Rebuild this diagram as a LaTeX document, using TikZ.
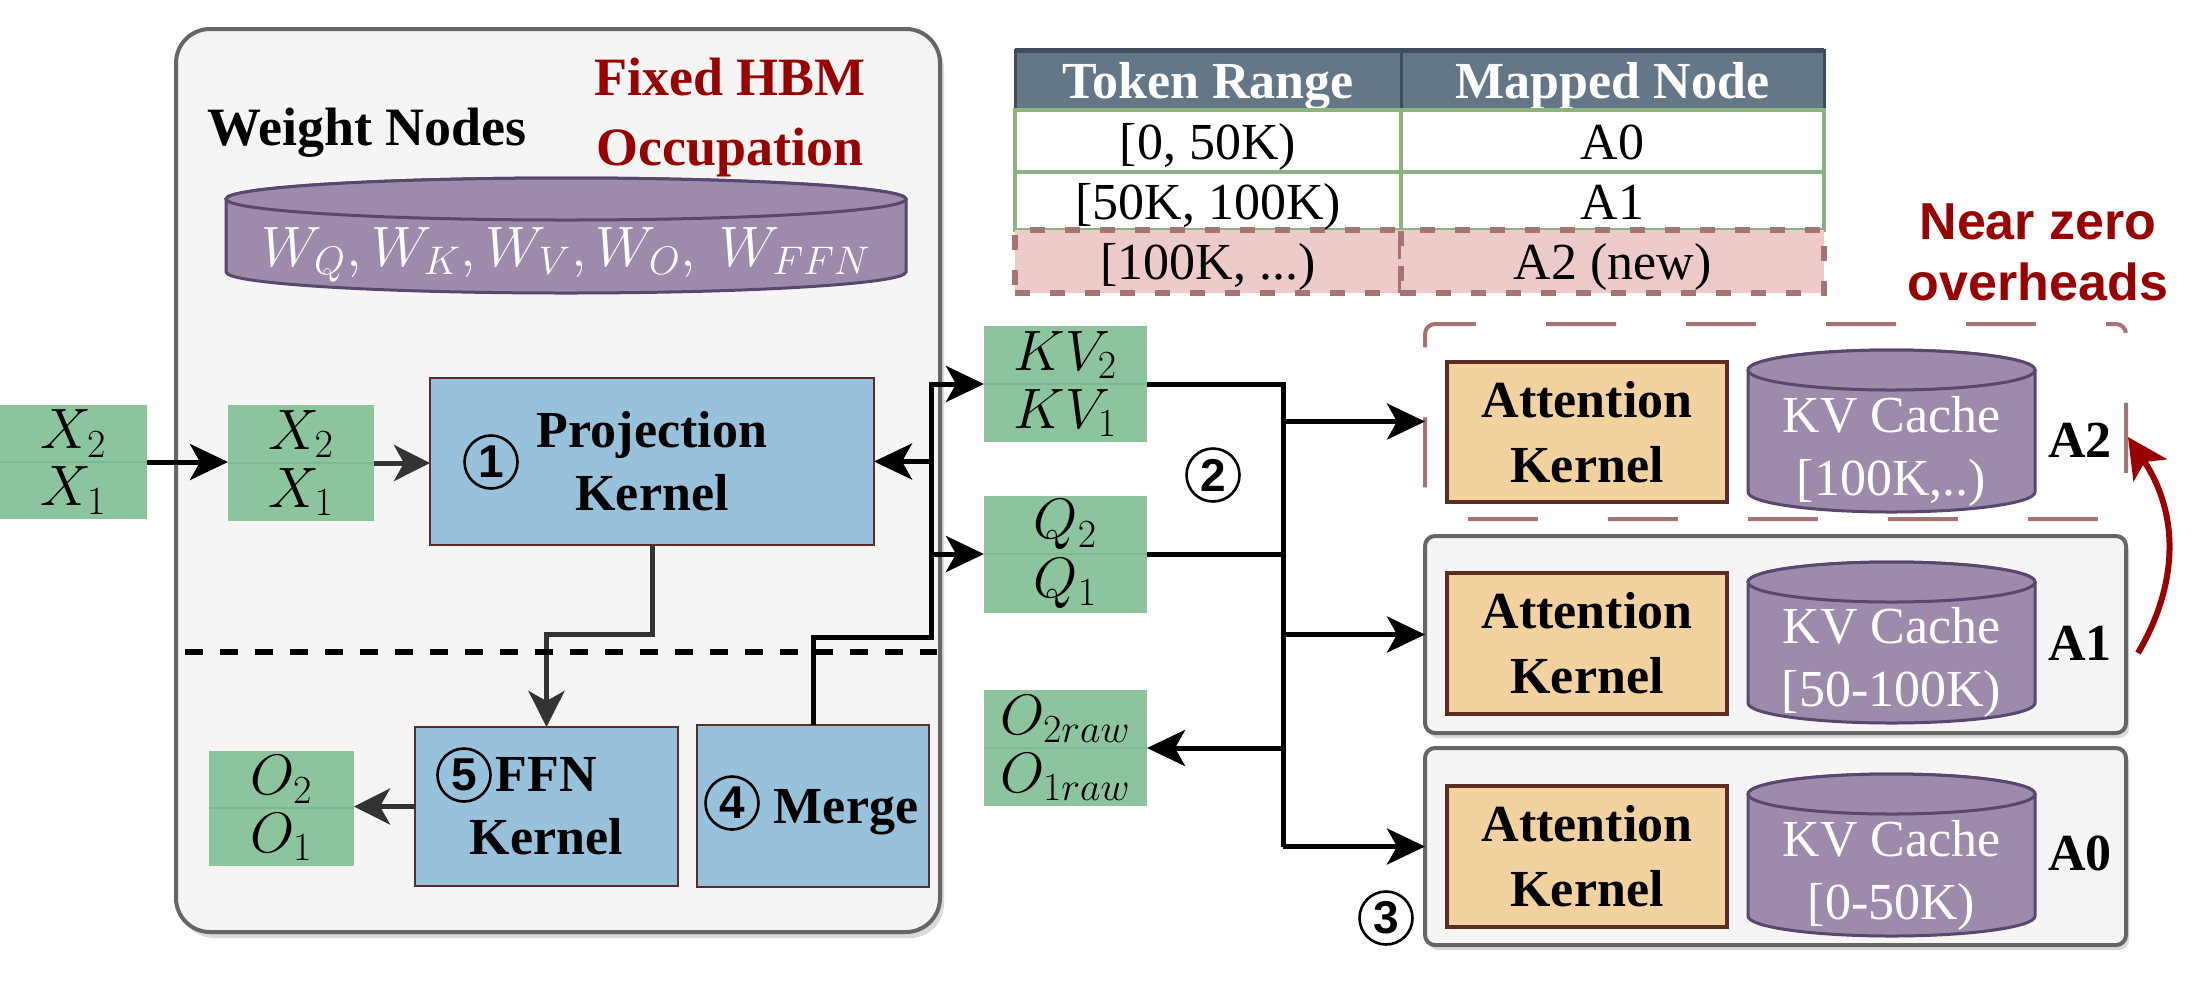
\RequirePackage{fix-cm}
\documentclass[tikz,border=0pt]{standalone}
\usepackage[no-math]{fontspec}
\setmainfont{Liberation Serif}
\newfontfamily\sansf{Liberation Sans}
\usetikzlibrary{arrows.meta,shadows}
\definecolor{cgreen}{HTML}{8CC49E}
\definecolor{cgreenbd}{HTML}{7DB98F}
\definecolor{cblue}{HTML}{98C2DC}
\definecolor{cbluebd}{HTML}{5B2C2C}
\definecolor{corange}{HTML}{F2D3A0}
\definecolor{corangebd}{HTML}{5C2B22}
\definecolor{cpurple}{HTML}{9E8AAA}
\definecolor{cpurplebd}{HTML}{58476F}
\definecolor{cpanel}{HTML}{F5F5F5}
\definecolor{cpanelbd}{HTML}{666666}
\definecolor{cred}{HTML}{990000}
\definecolor{cth}{HTML}{647788}
\definecolor{cthbd}{HTML}{3E4C5D}
\definecolor{ctdbd}{HTML}{8DB47F}
\definecolor{crow3}{HTML}{EDCBCB}
\definecolor{cdash}{HTML}{A57373}
\definecolor{cdark}{HTML}{333333}
\newcommand{\fs}{\fontsize{26}{31.5}\selectfont}
\newcommand{\kvcyl}[5]{%
  \pgfmathsetmacro{\cyxa}{#1}%
  \pgfmathsetmacro{\cyxb}{#2}%
  \pgfmathsetmacro{\cyxm}{(#1+#2)/2}%
  \pgfmathsetmacro{\cyyt}{#3+#5}%
  \pgfmathsetmacro{\cyyb}{#4-#5}%
  \pgfmathsetmacro{\cyrx}{(#2-#1)/4}%
  \pgfmathsetmacro{\cyry}{#5/2}%
  \filldraw[cyl] (\cyxa,\cyyt) -- (\cyxa,\cyyb) arc[start angle=180, end angle=360, x radius=\cyrx pt, y radius=\cyry pt] -- (\cyxb,\cyyt) arc[start angle=0, end angle=180, x radius=\cyrx pt, y radius=\cyry pt] -- cycle;
  \draw[cyl] (\cyxm,\cyyt) ellipse[x radius=\cyrx pt, y radius=\cyry pt];
}
\begin{document}
\begin{tikzpicture}[x=0.5pt,y=-0.5pt,
  every node/.style={inner sep=0pt, outer sep=0pt, font=\fs},
  bigbox/.style={draw=cpanelbd, fill=cpanel, line width=2pt, rounded corners=17pt, drop shadow={shadow xshift=2pt, shadow yshift=-3pt, opacity=0.15, fill=black}},
  cont/.style={draw=cpanelbd, fill=cpanel, line width=2pt, rounded corners=5pt, drop shadow={shadow xshift=1.5pt, shadow yshift=-2.5pt, opacity=0.15, fill=black}},
  dashbox/.style={draw=cdash, line width=2pt, rounded corners=5pt, dash pattern=on 35pt off 35pt, dash phase=30pt},
  mth/.style={font=\fontsize{28.5}{30}\selectfont},
  gcell/.style={fill=cgreen, mth},
  gsplit/.style={draw=cgreenbd, line width=1pt},
  kernel/.style={fill=cblue, draw=cbluebd, line width=1.3pt},
  attn/.style={fill=corange, draw=corangebd, line width=1.6pt, align=center, font=\fontsize{26}{32.5}\selectfont\bfseries},
  cyl/.style={fill=cpurple, draw=cpurplebd, line width=1.5pt},
  cyltxt/.style={text=white, align=center, font=\fontsize{26}{31.5}\selectfont},
  thcell/.style={fill=cth, draw=cthbd, line width=1.5pt, text=white, font=\fs\bfseries, text height=18pt, text depth=0pt},
  tdcell/.style={fill=white, draw=ctdbd, line width=1.75pt, text height=18pt, text depth=0pt},
  newcell/.style={fill=crow3, draw=cdash, line width=3pt, dash pattern=on 7.5pt off 10pt, text height=18pt, text depth=0pt},
  cnum/.style={circle, draw=black, line width=1.3pt, minimum size=26.5pt, font=\sansf\bfseries\fontsize{23}{23}\selectfont},
  blkline/.style={line width=2.5pt, draw=black},
  blkarr/.style={blkline, -{Stealth[length=19pt,width=18pt,inset=5pt]}},
  grayarr/.style={line width=2.5pt, draw=cdark, -{Stealth[length=18pt,width=18pt,inset=5pt]}},
  redarr/.style={line width=3pt, draw=cred, -{Stealth[length=20pt,width=20pt,inset=5pt]}},
  divider/.style={line width=3pt, dash pattern=on 9pt off 8.5pt},
  lbl/.style={font=\fs\bfseries}
]
\useasboundingbox (0,0) rectangle (2205,987);

% ---------- main panel ----------
\node[bigbox, minimum width=382pt, minimum height=451.5pt] (main) at (558,480.5) {};
\node[text=cred, align=center, font=\fontsize{27}{35}\selectfont\bfseries] (fixed) at (730,118) {Fixed HBM\\Occupation};
\node[anchor=base, font=\fontsize{27}{31.5}\selectfont\bfseries] (weight) at (367,145) {Weight Nodes};
\kvcyl{226}{906}{178}{293}{21}
\node[text=white, mth] (wtxt) at (566,255) {$W_Q, W_K, W_V, W_O,\ W_{FFN}$};

% inputs
\node[gcell, minimum width=73.5pt, minimum height=28.5pt] (xin2) at (73.5,433.5) {$X_2$};
\node[gcell, minimum width=73.5pt, minimum height=28.5pt] (xin1) at (73.5,490.5) {$X_1$};
\draw[gsplit] (xin2.south west) -- (xin2.south east);
\node[gcell, minimum width=73pt, minimum height=29pt] (xp2) at (301,434) {$X_2$};
\node[gcell, minimum width=73pt, minimum height=29pt] (xp1) at (301,492) {$X_1$};
\draw[gsplit] (xp2.south west) -- (xp2.south east);

% projection kernel
\node[kernel, minimum width=222pt, minimum height=83.5pt, align=center, font=\fs\bfseries] (proj) at (652,461.5) {Projection\\Kernel};
\node[cnum] (c1) at (491,462) {1};

% FFN, merge
\node[kernel, minimum width=131.5pt, minimum height=79.5pt, align=center, font=\fs\bfseries] (ffn) at (546.5,806.5) {FFN\\Kernel};
\node[cnum] (c5) at (464,775) {5};
\node[kernel, minimum width=116pt, minimum height=81pt] (merge) at (813,806) {};
\node[lbl] (mergetxt) at (846,812) {Merge};
\node[cnum] (c4) at (732,803) {4};

% outputs
\node[gcell, minimum width=72.5pt, minimum height=28.5pt] (o2) at (281.5,779.5) {$O_2$};
\node[gcell, minimum width=72.5pt, minimum height=29pt] (o1) at (281.5,837) {$O_1$};
\draw[gsplit] (o2.south west) -- (o2.south east);

% KV / Q / O raw
\node[gcell, minimum width=81.5pt, minimum height=29pt] (kv2) at (1065.5,355) {$KV_2$};
\node[gcell, minimum width=81.5pt, minimum height=29pt] (kv1) at (1065.5,413) {$KV_1$};
\draw[gsplit] (kv2.south west) -- (kv2.south east);
\node[gcell, minimum width=81.5pt, minimum height=29pt] (q2) at (1065.5,525) {$Q_2$};
\node[gcell, minimum width=81.5pt, minimum height=29.5pt] (q1) at (1065.5,583.5) {$Q_1$};
\draw[gsplit] (q2.south west) -- (q2.south east);
\node[gcell, minimum width=81.5pt, minimum height=29pt] (or2) at (1065.5,719) {$O_{2raw}$};
\node[gcell, minimum width=81.5pt, minimum height=29pt] (or1) at (1065.5,777) {$O_{1raw}$};
\draw[gsplit] (or2.south west) -- (or2.south east);

% ---------- table ----------
\node[thcell, minimum width=193pt, minimum height=30pt] (th1) at (1208,80) {Token Range};
\node[thcell, minimum width=211.5pt, minimum height=30pt] (th2) at (1612.5,80) {Mapped Node};
\draw[cthbd, line width=2.5pt] (th1.north west) -- (th2.north east);
\node[tdcell, minimum width=193pt, minimum height=31pt] (r1a) at (1208,141) {[0, 50K)};
\node[tdcell, minimum width=211.5pt, minimum height=31pt] (r1b) at (1612.5,141) {A0};
\node[tdcell, minimum width=193pt, minimum height=29pt] (r2a) at (1208,201) {[50K, 100K)};
\node[tdcell, minimum width=211.5pt, minimum height=29pt] (r2b) at (1612.5,201) {A1};
\node[newcell, minimum width=193pt, minimum height=31.5pt] (r3a) at (1208,261.5) {[100K, ...)};
\node[newcell, minimum width=211.5pt, minimum height=31.5pt] (r3b) at (1612.5,261.5) {A2 (new)};

\node[text=cred, align=center, font=\sansf\bfseries\fontsize{26}{30.5}\selectfont] (near) at (2038,252) {Near zero\\overheads};

% ---------- attention nodes ----------
\node[dashbox, minimum width=350.5pt, minimum height=97.5pt] (a2box) at (1775.5,421.5) {};
\node[cont, minimum width=350.5pt, minimum height=98.5pt] (a1box) at (1775.5,634.5) {};
\node[cont, minimum width=350.5pt, minimum height=98.5pt] (a0box) at (1775.5,846.5) {};

\node[attn, minimum width=140pt, minimum height=70pt] (at2) at (1587,432) {Attention\\Kernel};
\node[attn, minimum width=140pt, minimum height=70.5pt] (at1) at (1587,643.5) {Attention\\Kernel};
\node[attn, minimum width=140pt, minimum height=70.5pt] (at0) at (1587,856.5) {Attention\\Kernel};

\kvcyl{1748}{2035}{350}{512}{20}
\kvcyl{1748}{2035}{562}{723}{20}
\kvcyl{1748}{2035}{774}{936}{20}
\node[cyltxt] (kc2) at (1891.5,451) {KV Cache\\{}[100K,..)};
\node[cyltxt] (kc1) at (1891.5,662) {KV Cache\\{}[50-100K)};
\node[cyltxt] (kc0) at (1891.5,875) {KV Cache\\{}[0-50K)};

\node[lbl] (la2) at (2080,440) {A2};
\node[lbl] (la1) at (2080,643) {A1};
\node[lbl] (la0) at (2080,853) {A0};

\node[cnum] (c2) at (1213,475) {2};
\node[cnum] (c3) at (1386,918) {3};

% ---------- connectors ----------
\draw[blkarr] (xin2.south east) -- (xin2.south east -| xp2.west);
\draw[grayarr] (xp2.south east) -- (xp2.south east -| proj.west);

\coordinate (lx) at (931,0);
\coordinate (bj) at (931,637);
\draw[blkarr] (merge.north) |- (bj) |- (kv2.south west);
\draw[blkarr] (proj.east -| lx) -- (proj.east);
\draw[blkarr] (q2.south west -| lx) -- (q2.south west);

\draw[grayarr] (proj.south) -- ++(0,89) -| (ffn.north);
\draw[grayarr] (ffn.west) -- (ffn.west -| o2.east);

\coordinate (dl1) at (185,652);
\coordinate (dl2) at (937,652);
\draw[divider] (dl1) -- (dl2);

\coordinate (rx) at (1283,0);
\draw[blkline] (kv2.south east) -| (a0box.west -| rx);
\draw[blkline] (q2.south east) -- (q2.south east -| rx);
\draw[blkarr] (a2box.west -| rx) -- (a2box.west);
\draw[blkarr] (a1box.west -| rx) -- (a1box.west);
\draw[blkarr] (a0box.west -| rx) -- (a0box.west);
\draw[blkarr] (or2.south east -| rx) -- (or2.south east);

\coordinate (rs) at (2138,653);
\coordinate (re) at (2128,437);
\draw[redarr] (rs) .. controls (2178,585) and (2180,515) .. (re);
\end{tikzpicture}
\end{document}
